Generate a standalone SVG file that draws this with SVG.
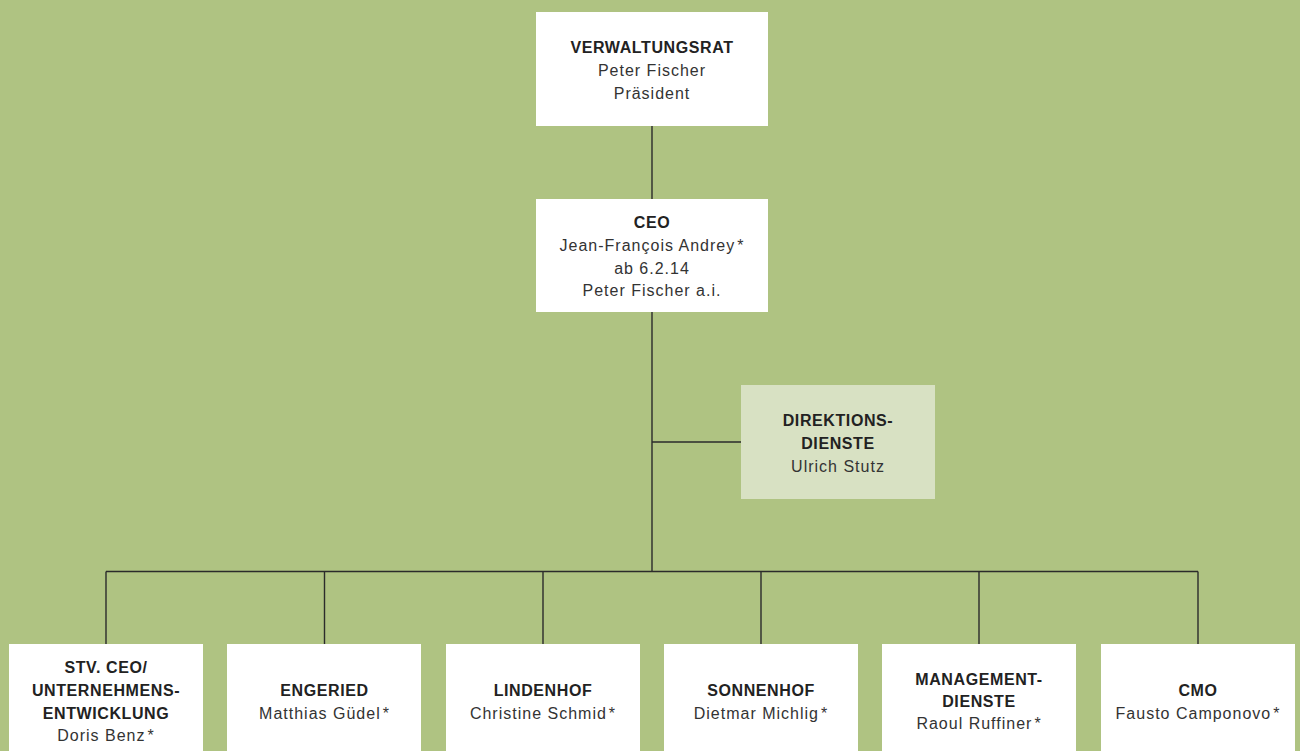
<svg xmlns="http://www.w3.org/2000/svg" width="1300" height="751" viewBox="0 0 1300 751">
<style>
.box{fill:#ffffff}
.lt{fill:#d8e1c3}
.t{font-family:"Liberation Sans",Arial,sans-serif;font-size:16px;text-anchor:middle}
.b{font-weight:bold;fill:#222222;letter-spacing:0.6px}
.r{fill:#333333;letter-spacing:1px}
.c{stroke:#2b2b2b;stroke-width:1.4;fill:none}
</style>
<rect x="0" y="0" width="1300" height="751" fill="#afc382"/>
<g id="connectors">
<path class="c" d="M652 126V199M652 312V571.5M652 442H741M106 571.5H1198M106 571.5V644M324.5 571.5V644M543 571.5V644M761 571.5V644M979 571.5V644M1198 571.5V644"/>
</g>
<g id="verwaltungsrat">
<rect class="box" x="536" y="12" width="232" height="114"/>
<text class="t b" x="652" y="53">VERWALTUNGSRAT</text>
<text class="t r" x="652" y="76">Peter Fischer</text>
<text class="t r" x="652" y="99">Präsident</text>
</g>
<g id="ceo">
<rect class="box" x="536" y="199" width="232" height="113"/>
<text class="t b" x="652" y="228">CEO</text>
<text class="t r" x="652" y="251">Jean-François Andrey<tspan dx="2">*</tspan></text>
<text class="t r" x="652" y="274">ab 6.2.14</text>
<text class="t r" x="652" y="296">Peter Fischer a.i.</text>
</g>
<g id="direktionsdienste">
<rect class="lt" x="741" y="385" width="194" height="114"/>
<text class="t b" x="838" y="426">DIREKTIONS-</text>
<text class="t b" x="838" y="449">DIENSTE</text>
<text class="t r" x="838" y="472">Ulrich Stutz</text>
</g>
<g id="stv-ceo">
<rect class="box" x="9" y="644" width="194" height="107"/>
<text class="t b" x="106" y="673">STV. CEO/</text>
<text class="t b" x="106" y="696">UNTERNEHMENS-</text>
<text class="t b" x="106" y="719">ENTWICKLUNG</text>
<text class="t r" x="106" y="741">Doris Benz<tspan dx="2">*</tspan></text>
</g>
<g id="engeried">
<rect class="box" x="227" y="644" width="194" height="107"/>
<text class="t b" x="324.5" y="696">ENGERIED</text>
<text class="t r" x="324.5" y="719">Matthias Güdel<tspan dx="2">*</tspan></text>
</g>
<g id="lindenhof">
<rect class="box" x="446" y="644" width="194" height="107"/>
<text class="t b" x="543" y="696">LINDENHOF</text>
<text class="t r" x="543" y="719">Christine Schmid<tspan dx="2">*</tspan></text>
</g>
<g id="sonnenhof">
<rect class="box" x="664" y="644" width="194" height="107"/>
<text class="t b" x="761" y="696">SONNENHOF</text>
<text class="t r" x="761" y="719">Dietmar Michlig<tspan dx="2">*</tspan></text>
</g>
<g id="managementdienste">
<rect class="box" x="882" y="644" width="194" height="107"/>
<text class="t b" x="979" y="685">MANAGEMENT-</text>
<text class="t b" x="979" y="707">DIENSTE</text>
<text class="t r" x="979" y="729">Raoul Ruffiner<tspan dx="2">*</tspan></text>
</g>
<g id="cmo">
<rect class="box" x="1101" y="644" width="194" height="107"/>
<text class="t b" x="1198" y="696">CMO</text>
<text class="t r" x="1198" y="719">Fausto Camponovo<tspan dx="2">*</tspan></text>
</g>
</svg>
